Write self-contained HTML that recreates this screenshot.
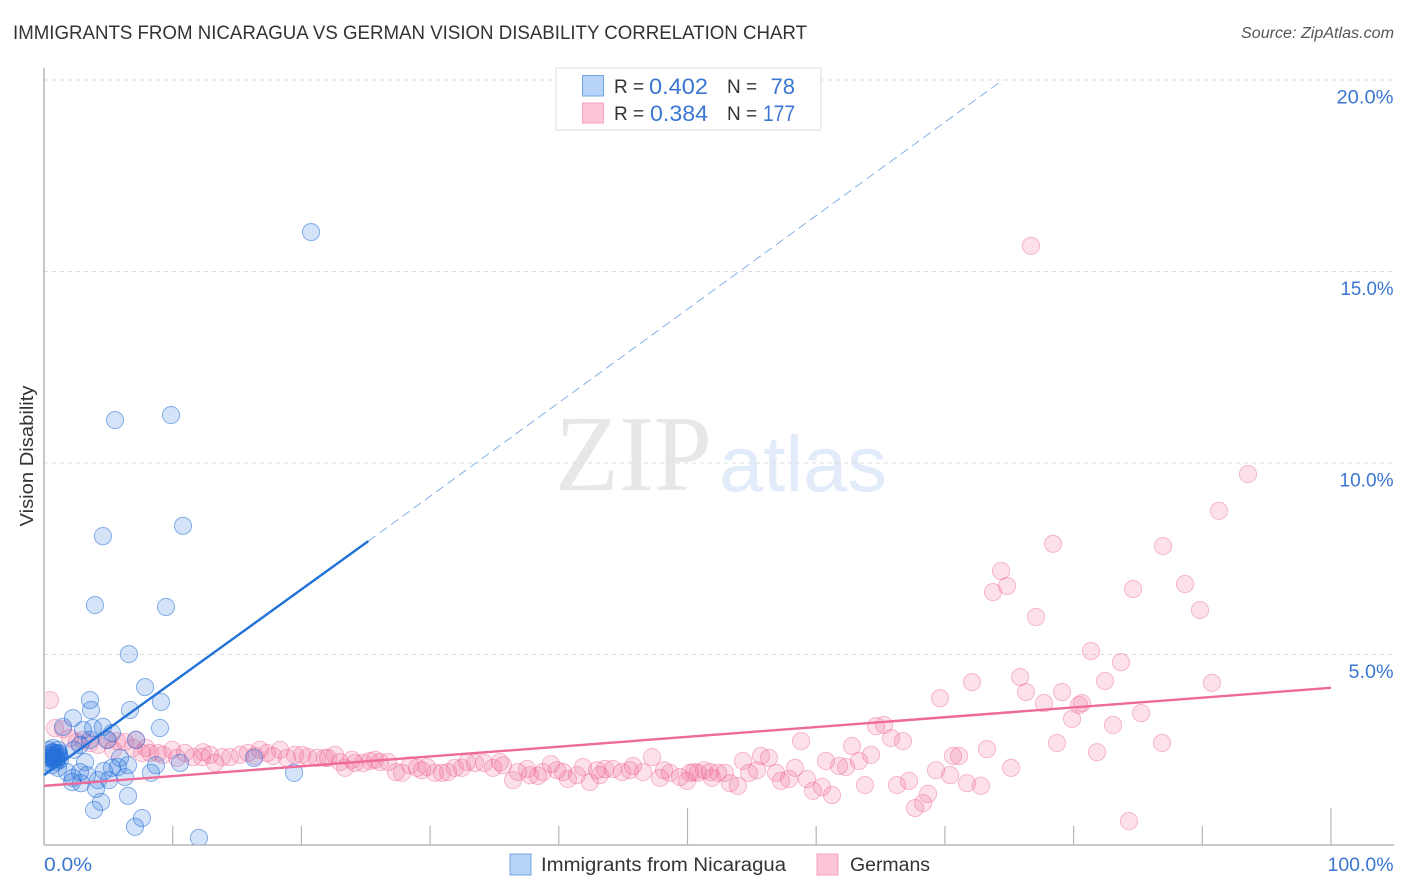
<!DOCTYPE html>
<html lang="en">
<head>
<meta charset="utf-8">
<title>Immigrants from Nicaragua vs German Vision Disability Correlation Chart</title>
<style>
html,body{margin:0;padding:0;background:#fff;width:1406px;height:892px;overflow:hidden}
svg{display:block;font-family:"Liberation Sans",sans-serif}
</style>
</head>
<body>
<svg id="chart" width="1406" height="892" viewBox="0 0 1406 892">
  <defs>
    <clipPath id="plot-clip"><rect x="45" y="68" width="1349" height="776.5"/></clipPath>
  </defs>
  <text x="13" y="39" font-size="19" fill="#333" textLength="794" lengthAdjust="spacingAndGlyphs">IMMIGRANTS FROM NICARAGUA VS GERMAN VISION DISABILITY CORRELATION CHART</text>
  <text x="1394" y="38" font-size="15.5" font-style="italic" fill="#555" text-anchor="end" textLength="153" lengthAdjust="spacingAndGlyphs">Source: ZipAtlas.com</text>
  <text x="555" y="490" font-size="108" font-family="'Liberation Serif',serif" fill="#e7e7e7" textLength="157" lengthAdjust="spacingAndGlyphs">ZIP</text>
  <text x="719" y="491" font-size="79" fill="#e2ebf9" textLength="168" lengthAdjust="spacingAndGlyphs">atlas</text>
  <g id="grid"></g>
  <g id="axes"></g>
  <g clip-path="url(#plot-clip)">
    <g id="pink-points"></g>
    <g id="blue-points"></g>
  </g>
  <g id="trends"></g>
  <text x="33" y="456" font-size="18" fill="#333" text-anchor="middle" transform="rotate(-90 33 456)" textLength="141" lengthAdjust="spacingAndGlyphs">Vision Disability</text>

  <g>
    <rect x="556" y="68" width="265" height="62" fill="#fff" stroke="#ddd" stroke-width="1"/>
    <rect x="582.5" y="75.5" width="21" height="20.5" fill="#b7d3f7" stroke="#73a5e6"/>
    <rect x="582.5" y="103" width="21" height="20" fill="#fcc6d8" stroke="#f5a3bf"/>
    <text x="614" y="93" font-size="19" fill="#333">R =</text>
    <text x="649" y="94" font-size="22" fill="#3a76d2" textLength="59" lengthAdjust="spacingAndGlyphs">0.402</text>
    <text x="727" y="93" font-size="19" fill="#333">N =</text>
    <text x="795" y="94" font-size="22" fill="#3a76d2" text-anchor="end">78</text>
    <text x="614" y="120" font-size="19" fill="#333">R =</text>
    <text x="650" y="121" font-size="22" fill="#3a76d2" textLength="58" lengthAdjust="spacingAndGlyphs">0.384</text>
    <text x="727" y="120" font-size="19" fill="#333">N =</text>
    <text x="795" y="121" font-size="22" fill="#3a76d2" text-anchor="end" textLength="32" lengthAdjust="spacingAndGlyphs">177</text>
  </g>

  <g>
    <rect x="510" y="854" width="21" height="21" fill="#b7d3f7" stroke="#73a5e6"/>
    <text x="541" y="871" font-size="19" fill="#333" textLength="245" lengthAdjust="spacingAndGlyphs">Immigrants from Nicaragua</text>
    <rect x="817" y="854" width="21" height="21" fill="#fcc6d8" stroke="#f5a3bf"/>
    <text x="850" y="871" font-size="19" fill="#333" textLength="80" lengthAdjust="spacingAndGlyphs">Germans</text>
  </g>
</svg>
<script>
const blueX = [20.75,5.52,9.87,4.58,10.80,3.96,9.48,6.60,7.85,3.57,3.65,9.09,6.68,9.01,2.25,1.48,3.03,3.81,4.58,5.28,7.15,4.90,5.91,8.70,10.57,16.32,19.43,8.31,6.53,5.75,5.28,4.66,6.29,5.05,4.20,4.04,3.34,2.25,2.87,1.79,1.09,6.53,4.43,3.89,7.61,7.07,12.04,0.47,0.62,0.85,1.01,1.24,0.78,0.31,0.62,1.09,0.95,1.10,1.20,0.16,0.39,0.93,0.70,1.00,0.55,0.85,0.75,2.80,3.57,0.70,1.17,0.08,0.54,0.65,2.33,3.19,2.80,2.18];
const blueY = [16.03,11.12,11.25,8.09,8.36,6.29,6.24,5.01,4.15,3.81,3.55,3.76,3.55,3.08,3.34,3.11,3.03,3.08,3.11,2.95,2.77,2.77,2.30,2.11,2.17,2.30,1.91,1.91,2.11,2.06,2.04,1.96,1.80,1.72,1.72,1.49,1.85,1.78,1.64,1.93,2.04,1.31,1.15,0.94,0.73,0.50,0.21,2.38,2.45,2.32,2.40,2.25,2.25,2.19,2.11,2.51,2.36,2.42,2.34,2.30,2.51,2.19,2.28,2.26,2.36,2.42,2.33,2.64,2.77,2.56,2.43,2.14,2.30,2.44,2.51,2.19,1.93,1.67];
const pinkX = [76.69,93.55,91.30,78.40,86.95,74.36,88.66,73.74,74.83,84.62,89.82,77.08,81.35,83.68,75.84,76.30,77.70,79.10,82.44,80.42,80.65,79.88,83.06,85.24,78.71,81.82,86.87,90.75,75.14,84.30,69.62,72.11,64.65,65.27,65.81,66.74,73.27,70.63,71.10,69.31,70.40,71.72,72.80,67.68,68.30,68.69,66.28,67.21,63.79,62.78,64.26,63.33,62.32,61.77,60.76,58.82,61.23,60.45,59.75,59.28,58.35,57.89,57.26,56.88,56.33,55.71,55.40,54.78,54.31,53.92,53.30,52.91,52.37,51.75,51.28,50.81,50.19,49.96,49.42,48.64,47.86,47.24,46.54,45.77,44.91,44.21,43.59,42.97,42.42,41.88,41.41,40.71,39.86,39.39,38.77,38.38,37.53,36.83,36.44,35.66,34.89,34.19,33.49,32.87,32.48,31.93,31.39,30.92,30.38,29.76,28.98,28.44,27.82,27.35,26.73,26.11,25.33,24.79,24.16,23.93,23.39,22.61,22.07,21.83,21.21,20.51,20.05,19.50,18.88,18.34,17.33,16.78,15.85,15.23,14.45,13.83,13.29,12.90,12.28,11.58,10.96,10.33,9.95,9.25,8.86,8.24,7.61,6.92,7.15,6.29,5.36,4.97,4.20,3.57,3.03,2.56,2.02,1.48,0.85,0.47,5.67,7.93,12.35,16.39,17.79,23.00,25.72,29.37,35.43,37.76,40.33,43.20,45.53,48.17,50.50,51.90];
const pinkY = [15.67,9.71,8.75,7.89,7.83,7.18,6.84,6.63,6.79,6.71,6.16,5.98,5.09,4.80,4.41,4.02,3.73,4.02,4.31,3.68,3.73,3.32,3.16,3.47,2.69,2.45,2.69,4.26,2.04,0.65,3.86,4.28,3.13,3.16,2.82,2.74,2.53,2.35,2.35,1.98,1.85,1.64,1.57,0.99,1.12,1.36,1.59,1.70,1.59,2.61,2.38,2.22,2.06,2.09,2.22,2.74,1.33,1.54,1.44,1.75,2.04,1.75,1.70,1.91,2.30,2.35,1.98,1.91,2.22,1.57,1.64,1.91,1.91,1.93,1.98,1.91,1.91,1.70,1.80,1.91,1.78,2.32,1.93,2.09,1.93,2.01,2.01,1.98,1.67,2.06,1.85,1.75,1.98,2.14,1.93,1.83,2.01,1.93,1.72,2.11,2.04,2.17,2.17,2.19,2.04,2.04,1.93,1.91,1.91,2.06,2.04,2.11,1.91,1.93,2.19,2.19,2.22,2.17,2.17,2.25,2.04,2.38,2.30,2.30,2.30,2.32,2.38,2.38,2.30,2.51,2.43,2.51,2.43,2.38,2.32,2.32,2.17,2.38,2.32,2.32,2.43,2.30,2.51,2.38,2.43,2.43,2.43,2.56,2.77,2.72,2.51,2.77,2.64,2.69,2.77,2.72,2.82,3.05,3.08,3.81,2.74,2.56,2.45,2.35,2.35,2.19,2.25,1.98,2.19,1.85,1.93,1.85,1.98,1.98,1.93,1.78];
const blueTrendX = [0, 25.2, 74.5];
const blueTrendY = [1.85, 7.96, 20];
const pinkTrendX = [0, 100];
const pinkTrendY = [1.57, 4.13];
const yTicks = [5, 10, 15, 20];
const yTickLabels = ['5.0%', '10.0%', '15.0%', '20.0%'];
const yTickLabelWidths = [45, 54, 53, 57];
const xTicks = [0, 10, 20, 30, 40, 50, 60, 70, 80, 90, 100];
const xEndTicks = [0, 100];
const xEndLabels = ['0.0%', '100.0%'];
const xEndLabelWidths = [48, 66];

const NS = 'http://www.w3.org/2000/svg';
const xScale = v => 44 + 12.87 * v;
const yScale = v => 846 - 38.3 * v;

function make(parent, tag, attrs, text) {
  const el = document.createElementNS(NS, tag);
  for (const k in attrs) el.setAttribute(k, attrs[k]);
  if (text !== undefined) el.textContent = text;
  document.getElementById(parent).appendChild(el);
  return el;
}

yTicks.forEach((t, i) => {
  const line = make('grid', 'line', {x1: 44, x2: 1394, y1: yScale(t), y2: yScale(t), stroke: '#dcdcdc', 'stroke-width': 1, 'stroke-dasharray': '4 4'});
  
  
  const label = make('axes', 'text', {x: 1393.5, y: yScale(t) + 23.5, 'font-size': 19.5, fill: '#3a76d2', 'text-anchor': 'end', textLength: yTickLabelWidths[i], lengthAdjust: 'spacingAndGlyphs'}, yTickLabels[i]);
  
  
});

const yAxis = make('axes', 'line', {x1: 44, x2: 44, y1: 68, y2: 845, stroke: '#aaa', 'stroke-width': 1.3});


const xAxis = make('axes', 'line', {x1: 44, x2: 1394, y1: 845, y2: 845, stroke: '#aaa', 'stroke-width': 1.3});



xTicks.forEach(t => {
  const tall = t === 50 || t === 100;
  const tick = make('axes', 'line', {x1: xScale(t), x2: xScale(t), y1: tall ? 808 : 826, y2: 845, stroke: '#b5b5b5', 'stroke-width': 1.2});
  
  
});

xEndTicks.forEach((t, i) => {
  const label = make('axes', 'text', {x: t === 0 ? xScale(t) : 1393.5, y: 871, 'font-size': 19.5, fill: '#3a76d2', 'text-anchor': t === 0 ? 'start' : 'end', textLength: xEndLabelWidths[i], lengthAdjust: 'spacingAndGlyphs'}, xEndLabels[i]);
  
  
});

pinkX.forEach((x, i) => {
  const dot = make('pink-points', 'circle', {cx: xScale(x), cy: yScale(pinkY[i]), r: 8.6, fill: 'rgba(240,90,140,0.18)', stroke: 'rgba(238,100,150,0.42)', 'stroke-width': 1});
  
  
});

blueX.forEach((x, i) => {
  const dot = make('blue-points', 'circle', {cx: xScale(x), cy: yScale(blueY[i]), r: 8.6, fill: 'rgba(40,115,220,0.2)', stroke: 'rgba(30,105,215,0.5)', 'stroke-width': 1});
  
  
});

const blueSolid = make('trends', 'line', {x1: xScale(blueTrendX[0]), y1: yScale(blueTrendY[0]), x2: xScale(blueTrendX[1]), y2: yScale(blueTrendY[1]), stroke: '#2272d8', 'stroke-width': 2.4});


const blueDash = make('trends', 'line', {x1: xScale(blueTrendX[1]), y1: yScale(blueTrendY[1]), x2: xScale(blueTrendX[2]), y2: yScale(blueTrendY[2]), stroke: '#6b9fe2', 'stroke-width': 0.8, 'stroke-dasharray': '9 5'});


const pinkLine = make('trends', 'line', {x1: xScale(pinkTrendX[0]), y1: yScale(pinkTrendY[0]), x2: xScale(pinkTrendX[1]), y2: yScale(pinkTrendY[1]), stroke: '#ee6a98', 'stroke-width': 2.4});


</script>
</body>
</html>
